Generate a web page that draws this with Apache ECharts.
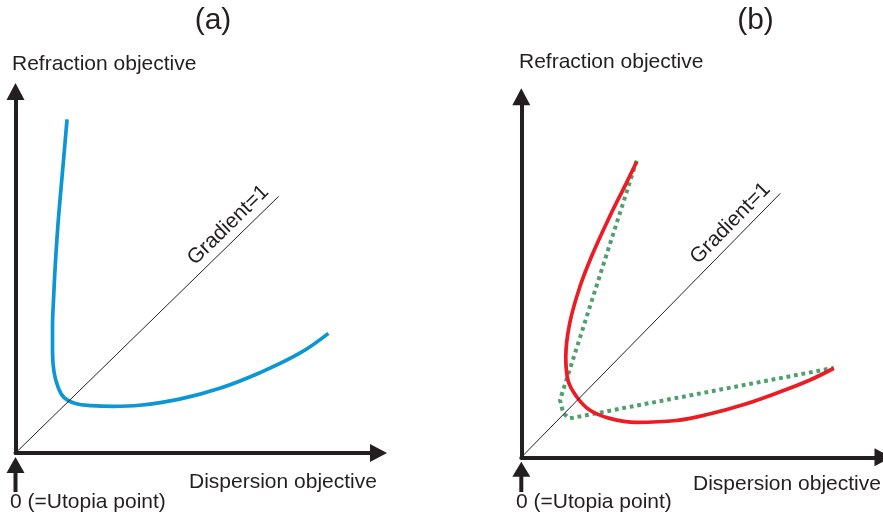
<!DOCTYPE html>
<html>
<head>
<meta charset="utf-8">
<script src="https://cdn.jsdelivr.net/npm/echarts@6/dist/echarts.min.js"></script>
<style>html,body{margin:0;padding:0;background:#fff;}#c{width:883px;height:517px;}</style>
</head>
<body>
<div id="c"></div>
<script>
// Panel (a): Pareto front (blue)
const curveA = [[14.2,92.3],[13.4,83.0],[12.7,75.0],[12.0,67.0],[11.4,59.0],[10.9,51.0],[10.5,43.0],[10.2,35.0],[10.2,28.0],[10.6,22.5],[11.7,18.3],[13.4,15.3],[16.5,13.7],[21.0,13.1],[27.0,12.9],[34.2,13.2],[45.2,14.9],[56.3,17.9],[67.3,22.2],[78.3,27.6],[86.2,33.1]];
// Panel (b): Pareto front (red) and its envelope (green dotted)
const curveB = [[31.9,82.0],[29.0,76.0],[24.4,66.7],[19.8,56.6],[16.2,47.3],[13.4,37.2],[12.3,27.9],[12.9,21.4],[15.3,16.8],[18.9,13.1],[24.4,10.8],[31.8,9.7],[42.8,10.2],[52.0,12.0],[61.1,14.5],[70.3,17.7],[79.5,21.3],[86.4,24.7]];
const envelopeB = [[31.9,82.3],[10.7,15.9],[11.6,12.2],[13.4,10.8],[86.4,24.8]];
// Gradient=1 reference lines
const diagA = [[0,0],[72.5,71.0]];
const diagB = [[0,0],[71.6,73.2]];
// Texts
const panelTitles = ['(a)','(b)'];
const yName = 'Refraction objective';
const xName = 'Dispersion objective';
const originName = '0 (=Utopia point)';
const diagName = 'Gradient=1';

const INK = '#231f20';
const FONT = '"Liberation Sans", Arial, sans-serif';

const chart = echarts.init(document.getElementById('c'), null, {renderer:'canvas'});

function axis(gridIndex){
  return {
    type:'value', gridIndex, min:0, max:100,
    axisLine:{show:true, onZero:false, lineStyle:{color:INK, width:4}, symbol:['none','triangle'], symbolSize:[18,17]},
    axisTick:{show:false}, axisLabel:{show:false}, splitLine:{show:false}
  };
}
function diag(xi, pts){
  return {
    type:'line', xAxisIndex:xi, yAxisIndex:xi, data:[], silent:true,
    markLine:{
      silent:true, symbol:['none','none'], animation:false,
      lineStyle:{color:INK, width:1, type:'solid'},
      label:{show:true, formatter:diagName, position:'insideEndTop', color:INK, fontSize:21, fontFamily:FONT, distance:4},
      data:[[{coord:pts[0]},{coord:pts[1]}]]
    }
  };
}

chart.setOption({
  animation:false,
  grid:[
    {left:15.5, top:91.5, width:363, height:361.5},
    {left:521.3, top:96.8, width:363.2, height:360.5}
  ],
  xAxis:[axis(0),axis(1)],
  yAxis:[axis(0),axis(1)],
  series:[
    diag(0, diagA),
    diag(1, diagB),
    {type:'line', xAxisIndex:0, yAxisIndex:0, data:curveA, smooth:0.4, showSymbol:false, lineStyle:{color:'#0d96d5', width:3.7}, z:3},
    {type:'line', xAxisIndex:1, yAxisIndex:1, data:envelopeB, smooth:false, showSymbol:false, lineStyle:{color:'#4f9f6f', width:4, type:[3.8,3.8], cap:'butt'}, z:2},
    {type:'line', xAxisIndex:1, yAxisIndex:1, data:curveB, smooth:0.4, showSymbol:false, lineStyle:{color:'#ec1c24', width:3.7}, z:3}
  ]
});

function addDecor(){
  const oA = chart.convertToPixel({gridIndex:0},[0,0]);
  const oB = chart.convertToPixel({gridIndex:1},[0,0]);
  const t = (text,x,y,size,align)=>({type:'text', x, y, silent:true, style:{text, fill:INK, font: size+'px '+FONT, align:align||'left', verticalAlign:'middle'}});
  const arrow = (o, tip, base, end)=>[
    {type:'polygon', silent:true, shape:{points:[[o[0],o[1]+tip],[o[0]+9,o[1]+base],[o[0]-9,o[1]+base]]}, style:{fill:INK}},
    {type:'rect', silent:true, shape:{x:o[0]-2, y:o[1]+base-1, width:4, height:end-(o[1]+base-1)}, style:{fill:INK}}
  ];
  chart.setOption({graphic:[
    t(panelTitles[0], 213, 20.5, 30, 'center'),
    t(panelTitles[1], 755.5, 20.5, 30, 'center'),
    t(yName, 12, 64.7, 21),
    t(yName, 519, 62.7, 21),
    t(xName, 189, 482.7, 21),
    t(xName, 693, 484.4, 21),
    t(originName, 10, 502.7, 21),
    t(originName, 516, 502.7, 21),
    ...arrow(oA, 4, 20, 492),
    ...arrow(oB, 4.4, 19.4, 492)
  ]});
}
addDecor();
</script>
</body>
</html>
